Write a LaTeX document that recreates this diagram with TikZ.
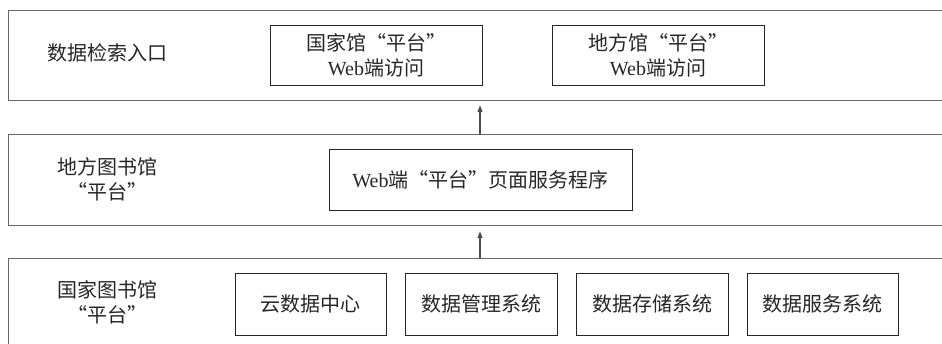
\documentclass[tikz,border=0pt]{standalone}
\usepackage{fontspec}
\setmainfont{Liberation Serif}
\newfontfamily\cjk{Noto Sans CJK SC}
\usetikzlibrary{arrows.meta}
\tikzset{
  layer/.style={draw=black!60, line width=1.2pt, inner sep=0pt},
  box/.style={draw=black!85, line width=0.9pt, inner sep=0pt, align=center, text=black!85},
  lbl/.style={align=center, text=black!85, inner sep=0pt},
  arr/.style={draw=black!60, line width=1.1pt, -{Triangle[width=5pt,length=7pt]}, color=black!70},
}
\begin{document}
\begin{tikzpicture}[x=1pt, y=-1pt, every node/.append style={font=\fontsize{20}{25}\selectfont}]
\useasboundingbox (0,0) rectangle (942,344);
\clip (0,0) rectangle (942,344);
% layers
\node[layer, minimum width=940, minimum height=90, anchor=north west] (L1) at (8,10) {};
\node[layer, minimum width=940, minimum height=91, anchor=north west] (L2) at (8,134) {};
\node[layer, minimum width=940, minimum height=100, anchor=north west] (L3) at (8,258) {};
% layer labels
\node[lbl] (t1) at (107,53) {\cjk 数据检索入口};
\node[lbl] (t2) at (107,179) {\cjk 地方图书馆\\\cjk “平台”};
\node[lbl] (t3) at (107,302) {\cjk 国家图书馆\\\cjk “平台”};
% top boxes
\node[box, minimum width=212, minimum height=60] (gj) at (376,55) {{\cjk 国家馆“平台”}\\Web{\cjk 端访问}};
\node[box, minimum width=212, minimum height=60] (df) at (658,55) {{\cjk 地方馆“平台”}\\Web{\cjk 端访问}};
% middle box
\node[box, minimum width=303, minimum height=61] (web) at (480.5,179.5) {Web{\cjk 端“平台”页面服务程序}};
% bottom boxes
\node[box, minimum width=151, minimum height=62] (b1) at (310.5,304) {\cjk 云数据中心};
\node[box, minimum width=152, minimum height=62] (b2) at (481,304) {\cjk 数据管理系统};
\node[box, minimum width=152, minimum height=62] (b3) at (652,304) {\cjk 数据存储系统};
\node[box, minimum width=151, minimum height=62] (b4) at (822.5,304) {\cjk 数据服务系统};
% arrows
\coordinate (ax) at (480,0);
\draw[arr, shorten >=4pt] (L2.north -| ax) -- (L1.south -| ax);
\draw[arr, shorten >=5pt] (L3.north -| ax) -- (L2.south -| ax);
\end{tikzpicture}
\end{document}
